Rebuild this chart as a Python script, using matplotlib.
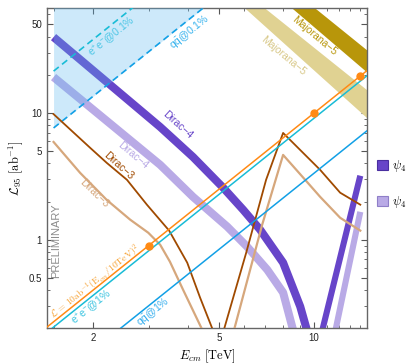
import matplotlib
matplotlib.use("Agg")
import matplotlib.pyplot as plt
from matplotlib.patches import Patch
from matplotlib import font_manager
from matplotlib.ticker import FixedLocator, FixedFormatter, NullFormatter

# values: E_cm in TeV, L_95 in ab^-1
dirac4_dark_E = [1.5, 3.26, 4.14, 5.16, 5.97, 6.75, 7.98, 9.04, 9.51]
dirac4_dark_L = [39.7, 7.76, 4.50, 2.57, 1.72, 1.20, 0.659, 0.297, 0.19]
dirac4_dark_rise_E = [10.6, 14.0]
dirac4_dark_rise_L = [0.19, 3.2]
dirac4_light_E = [1.5, 3.26, 4.14, 5.31, 6.14, 7.11, 7.98, 8.6]
dirac4_light_L = [19.2, 3.90, 2.18, 1.27, 0.881, 0.580, 0.383, 0.19]
dirac4_light_rise_E = [11.67, 14.0]
dirac4_light_rise_L = [0.19, 1.66]

dirac3_dark_E = [1.5, 1.96, 2.21, 2.56, 2.96, 3.48, 3.97, 4.36, 4.8]
dirac3_dark_L = [9.8, 5.30, 4.04, 2.97, 1.89, 1.18, 0.659, 0.349, 0.19]
dirac3_dark_rise_E = [5.17, 6.10, 7.05, 7.98, 10.45, 12.09, 14.0]
dirac3_dark_rise_L = [0.19, 0.79, 2.97, 6.96, 3.56, 2.35, 1.89]
dirac3_light_E = [1.5, 1.82, 2.21, 2.62, 2.99, 3.26, 3.50, 3.85, 4.45]
dirac3_light_L = [5.91, 3.37, 2.06, 1.44, 1.135, 0.913, 0.671, 0.404, 0.19]
dirac3_light_rise_E = [5.57, 6.85, 7.98, 9.37, 10.45, 12.09, 14.0]
dirac3_light_rise_L = [0.19, 1.31, 4.67, 2.97, 2.18, 1.49, 1.18]

majorana5_dark_E = [8.0, 15.0]
majorana5_dark_lo = [76.8, 20.1]
majorana5_dark_hi = [107.0, 30.1]
majorana5_light_E = [5.5, 15.0]
majorana5_light_lo = [83.0, 8.74]
majorana5_light_hi = [108.5, 14.6]

# straight reference lines (two end points each)
lumi_E = [1.4, 15.0]
lumi_L = [0.196, 22.5]
lumi_pts_E = [3.0, 10.0, 14.0]
lumi_pts_L = [0.9, 10.0, 19.6]
ee1_E = [1.4, 15.0]
ee1_L = [0.178, 20.5]
qq1_E = [2.4, 15.0]
qq1_L = [0.193, 7.54]
ee01_E = [1.5, 2.8]
ee01_L = [21.4, 74.6]
qq01_E = [1.5, 4.6]
qq01_L = [7.62, 71.7]

xticks = [2, 5, 10]
xtick_labels = ["2", "5", "10"]
xminor = [1.5, 3, 4, 6, 7, 8, 9, 11, 12, 13, 14]
yticks = [0.5, 1, 5, 10, 50]
ytick_labels = ["0.5", "1", "5", "10", "50"]
yminor = [0.2, 0.3, 0.4, 0.6, 0.7, 0.8, 0.9, 2, 3, 4, 6, 7, 8, 9, 20, 30, 40, 60]
legend_labels = [r"$\psi_4$", r"$\psi_4$"]

plt.rcParams['font.family'] = ['Liberation Sans', 'DejaVu Sans']
plt.rcParams['mathtext.fontset'] = 'cm'

c_dark = '#6745c9'
c_light = '#b9aae6'
c_brown = '#a04a00'
c_tan = '#d6a77c'
c_gold = '#b8960a'
c_gold_l = '#e0d292'
c_orange = '#ff8a14'
c_cyan = '#19bcd6'
c_blue = '#12a0e6'

fig = plt.figure(figsize=(4.08, 3.64), dpi=100)
ax = fig.add_axes([0.1152, 0.0981, 0.7843, 0.879])
ax.set_xscale('log')
ax.set_yscale('log')
ax.set_xlim(1.43, 14.7)
ax.set_ylim(0.2, 67)

# bands
ax.fill_between(majorana5_light_E, majorana5_light_lo, majorana5_light_hi, color=c_gold_l, lw=0, zorder=2)
ax.fill_between(majorana5_dark_E, majorana5_dark_lo, majorana5_dark_hi, color=c_gold, lw=0, zorder=2)
ax.plot(dirac4_light_E, dirac4_light_L, color=c_light, lw=5.8, solid_capstyle='butt', zorder=2)
ax.plot(dirac4_light_rise_E, dirac4_light_rise_L, color=c_light, lw=4.4, solid_capstyle='butt', zorder=2)
ax.plot(dirac4_dark_E, dirac4_dark_L, color=c_dark, lw=5.8, solid_capstyle='butt', zorder=2)
ax.plot(dirac4_dark_rise_E, dirac4_dark_rise_L, color=c_dark, lw=4.4, solid_capstyle='butt', zorder=2)

# excluded region above qq@0.1%
ax.fill_between(qq01_E, qq01_L, 200, color='#5ab8f0', alpha=0.3, lw=0, zorder=3)
ax.plot(ee01_E, ee01_L, color=c_cyan, lw=1.2, ls=(0, (4, 2.5)), zorder=4)
ax.plot(qq01_E, qq01_L, color=c_blue, lw=1.2, ls=(0, (4, 2.5)), zorder=4)

# Dirac-3 curves
ax.plot(dirac3_light_E, dirac3_light_L, color=c_tan, lw=1.6, zorder=4)
ax.plot(dirac3_light_rise_E, dirac3_light_rise_L, color=c_tan, lw=1.6, zorder=4)
ax.plot(dirac3_dark_E, dirac3_dark_L, color=c_brown, lw=1.3, zorder=4)
ax.plot(dirac3_dark_rise_E, dirac3_dark_rise_L, color=c_brown, lw=1.3, zorder=4)

# luminosity and 1% lines
ax.plot(qq1_E, qq1_L, color=c_blue, lw=1.1, zorder=5)
ax.plot(ee1_E, ee1_L, color=c_cyan, lw=1.1, zorder=5)
ax.plot(lumi_E, lumi_L, color=c_orange, lw=1.1, zorder=5)
ax.plot(lumi_pts_E, lumi_pts_L, 'o', color=c_orange, ms=5, zorder=6, clip_on=False)

# labels
lab = dict(fontsize=7.5, ha='center', va='center', zorder=7)
ax.text(2.30, 39.7, r"$\mathregular{e^{+}e^{-}}$@0.1%", color='#4cc6e6', rotation=38.7, **lab)
ax.text(4.05, 42.7, r"$\mathregular{q\bar{q}}$@0.1%", color='#3ab4ee', rotation=38.7, **lab)
ax.text(1.98, 0.291, r"$\mathregular{e^{+}e^{-}}$@1%", color='#3cc4e0', rotation=38.7, **lab)
ax.text(3.12, 0.266, r"$\mathregular{q\bar{q}}$@1%", color='#3ab0ee', rotation=38.7, **lab)
ax.text(3.69, 8.05, "Dirac\u22124", color=c_dark, rotation=-42, **lab)
ax.text(2.68, 4.67, "Dirac\u22124", color=c_light, rotation=-40, **lab)
ax.text(2.40, 3.82, "Dirac\u22123", color=c_brown, rotation=-42, **lab)
ax.text(2.02, 2.30, "Dirac\u22123", color=c_tan, rotation=-44, **lab)
ax.text(10.0, 40.3, "Majorana\u22125", color=c_gold, rotation=-40, **lab)
ax.text(7.98, 28.2, "Majorana\u22125", color='#d8c888', rotation=-40, **lab)
ax.text(2.03, 0.465, r"$\mathcal{L}\,=\,10\mathrm{ab}^{-1}(\mathrm{E}_{cm}/10\mathrm{TeV})^{2}$",
        color='#f6a030', fontsize=6.9, rotation=38.7, ha='center', va='center', zorder=7)

try:
    font_manager.findfont("Liberation Sans Narrow", fallback_to_default=False)
    prelim_font, prelim_size = "Liberation Sans Narrow", 10
except ValueError:
    prelim_font, prelim_size = "Liberation Sans", 8
ax.text(0.028, 0.273, "PRELIMINARY", transform=ax.transAxes, rotation=90, color='#8c8c8c',
        fontsize=prelim_size, family=[prelim_font, 'DejaVu Sans'], ha='center', va='center', zorder=7)

# axes styling
ax.xaxis.set_major_locator(FixedLocator(xticks))
ax.xaxis.set_major_formatter(FixedFormatter(xtick_labels))
ax.xaxis.set_minor_locator(FixedLocator(xminor))
ax.xaxis.set_minor_formatter(NullFormatter())
ax.yaxis.set_major_locator(FixedLocator(yticks))
ax.yaxis.set_major_formatter(FixedFormatter(ytick_labels))
ax.yaxis.set_minor_locator(FixedLocator(yminor))
ax.yaxis.set_minor_formatter(NullFormatter())
ax.tick_params(which='both', direction='in', top=True, right=True, colors='#555555',
               labelcolor='#222222', labelsize=7)
ax.tick_params(which='major', length=4.5, width=0.8)
ax.tick_params(which='minor', length=2.5, width=0.6)
for s in ax.spines.values():
    s.set_color('#666666')
    s.set_linewidth(1.0)

ax.set_xlabel(r"$E_{cm}\ [\mathrm{TeV}]$", fontsize=9, labelpad=3)
ax.set_ylabel(r"$\mathcal{L}_{95}\ [\mathrm{ab}^{-1}]$", fontsize=9, labelpad=3)

handles = [Patch(facecolor=c_dark, edgecolor='#4a2fa0', lw=0.8),
           Patch(facecolor=c_light, edgecolor='#8f7fc8', lw=0.8)]
fig.legend(handles, legend_labels, loc='upper left', bbox_to_anchor=(0.925, 0.565), frameon=False,
           fontsize=9, handlelength=0.85, handleheight=0.85, handletextpad=0.3,
           labelspacing=1.6, borderpad=0, borderaxespad=0)

fig.savefig("out.png", dpi=100)
